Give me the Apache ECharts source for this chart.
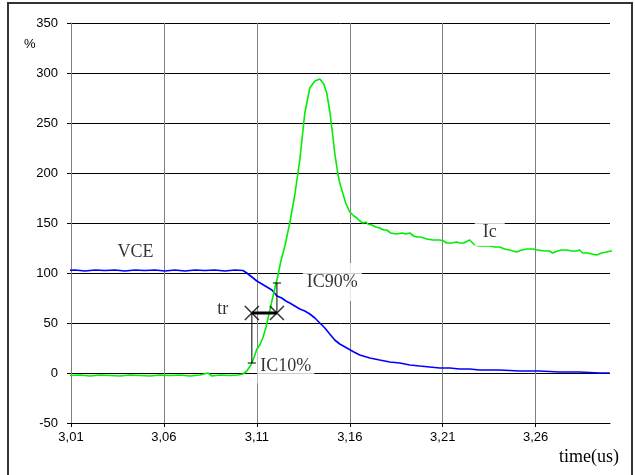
<!DOCTYPE html>
<html>
<head>
<meta charset="utf-8">
<script src="https://cdn.jsdelivr.net/npm/echarts@6/dist/echarts.min.js"></script>
<style>html,body{margin:0;padding:0;background:#fff}#c{width:635px;height:475px}</style>
</head>
<body>
<div id="c"></div>
<script>
// ---- data (time in µs, values in %) ----
const T0 = 3.01;
const xTickLabels = ['3,01','3,06','3,11','3,16','3,21','3,26'];

const vceTime = [3.0068,3.0122,3.0175,3.0229,3.0283,3.0337,3.0390,3.0444,3.0498,3.0552,3.0605,3.0659,3.0713,3.0767,3.0820,3.0874,3.0928,3.0982,3.1025,3.1046,3.1073,3.1100,3.1127,3.1154,3.1181,3.1208,3.1234,3.1256,3.1277,3.1304,3.1331,3.1358,3.1385,3.1412,3.1439,3.1466,3.1492,3.1519,3.1546,3.1584,3.1622,3.1654,3.1708,3.1761,3.1815,3.1869,3.1923,3.1976,3.2030,3.2084,3.2138,3.2191,3.2245,3.2299,3.2353,3.2406,3.2514,3.2621,3.2729,3.2836,3.2944,3.2998];
const vceValue = [102.5,103,102,103,102.5,103,102,103,102.5,103,102,103,102,103,102.5,103,102,103,102.5,100,96,92,89,86,83,77,75,72,70,67,64,62,59,55,50,45,39,33,29,25,21,18,15,13,11,10,8,7,6,5,5,4,4,3,3,3,2,2,1,1,0,0];

const icTime = [3.0068,3.0095,3.0148,3.0202,3.0256,3.0310,3.0363,3.0417,3.0471,3.0525,3.0578,3.0632,3.0686,3.0740,3.0794,3.0837,3.0858,3.0901,3.0955,3.0998,3.1025,3.1046,3.1068,3.1084,3.1100,3.1116,3.1132,3.1148,3.1164,3.1181,3.1197,3.1213,3.1229,3.1251,3.1277,3.1304,3.1331,3.1358,3.1385,3.1412,3.1439,3.1460,3.1476,3.1492,3.1503,3.1519,3.1535,3.1546,3.1562,3.1578,3.1600,3.1622,3.1638,3.1654,3.1670,3.1686,3.1697,3.1718,3.1740,3.1761,3.1783,3.1799,3.1820,3.1853,3.1880,3.1901,3.1923,3.1944,3.1960,3.1982,3.2014,3.2046,3.2084,3.2105,3.2122,3.2148,3.2175,3.2191,3.2213,3.2234,3.2245,3.2261,3.2272,3.2299,3.2315,3.2353,3.2380,3.2406,3.2433,3.2460,3.2498,3.2525,3.2552,3.2584,3.2611,3.2648,3.2675,3.2691,3.2718,3.2740,3.2767,3.2794,3.2820,3.2836,3.2853,3.2880,3.2901,3.2928,3.2955,3.2982,3.3003,3.3025];
const icValue = [-1,-2.5,-2,-3,-2,-2.5,-3,-2,-2.5,-3,-2,-2.5,-2,-3,-2,0,-3,-2,-2.5,-2,-1,2,8,15,24,28,35,45,58,72,85,97,112,127,150,178,213,260,285,292,294,289,280,262,246,220,200,190,180,170,161,157,155,152,150,151,149,148,146,145,143,143,140,139,140,139,140,137,136,136,134,133,133,132,130,130,131,130,130,132,133,130,128,127,127,127,126,126,124,123,121,123,124,124,123,122,122,120,122,123,123,122,122,123,120,120,119,118,120,121,122,122];

// rise-time annotation (µs, %)
const trTimes = [3.1073, 3.1208];
const trLevel = 60;
const ic10Level = 10;
const ic90Level = 90;

// text annotations
const noteText  = ['VCE', 'tr', 'IC90%', 'IC10%', 'Ic'];
const noteTime  = [3.0447, 3.0917, 3.1506, 3.1256, 3.2353];
const noteValue = [120.5, 64, 91, 6.5, 141];

// ---- build ----
const toX = t => +((t - T0) * 1000).toFixed(3);
const pairs = (ts, vs) => ts.map((t, i) => [toX(t), vs[i]]);
const serif = '"Liberation Serif", "Times New Roman", serif';
const sans = '"Liberation Sans", Arial, sans-serif';
const notePad = {
  'VCE': [0, 0], 'tr': [0, 0], 'IC90%': [10, 4], 'IC10%': [8, 3], 'Ic': [5, 8]
};
const segStyle = {type: 'line', symbol: 'none', silent: true, clip: false, z: 5,
  lineStyle: {color: '#000', width: 1}};
const tk = 0.0022;

const chart = echarts.init(document.getElementById('c'), null, {renderer: 'canvas'});
chart.setOption({
  animation: false,
  backgroundColor: '#fff',
  grid: {left: 71, right: 25, top: 23, bottom: 52, containLabel: false},
  xAxis: {
    type: 'value', min: 0, max: 290, interval: 50,
    axisLine: {onZero: false, lineStyle: {color: '#000', width: 1}},
    axisTick: {show: true, length: 4, lineStyle: {color: '#000'}},
    axisLabel: {
      margin: 8, color: '#000', fontFamily: sans, fontSize: 13, showMaxLabel: false,
      formatter: v => { const i = Math.round(v / 50); return (Math.abs(v - i * 50) < 1e-6 && xTickLabels[i]) ? xTickLabels[i] : ''; }
    },
    splitLine: {show: true, showMaxLine: false, lineStyle: {color: '#808080', width: 1}}
  },
  yAxis: {
    type: 'value', min: -50, max: 350, interval: 50,
    axisLine: {show: true, onZero: false, lineStyle: {color: '#808080', width: 1}},
    axisTick: {show: true, length: 4, lineStyle: {color: '#000'}},
    axisLabel: {margin: 13, color: '#000', fontFamily: sans, fontSize: 13},
    splitLine: {show: true, lineStyle: {color: '#000', width: 1}}
  },
  graphic: [
    {type: 'rect', shape: {x: 8, y: 3, width: 624, height: 476}, style: {fill: 'none', stroke: '#333', lineWidth: 2}, z: 100},
    {type: 'text', left: 24, top: 38, style: {text: '%', font: '13px ' + sans, fill: '#000'}},
    {type: 'text', left: 559, top: 448, style: {text: 'time(us)', font: '18px ' + serif, fill: '#000'}}
  ],
  series: [
    {name: 'VCE', type: 'line', data: pairs(vceTime, vceValue), symbol: 'none', smooth: false, clip: false, z: 3,
     lineStyle: {color: '#0000ff', width: 1.6}},
    {name: 'Ic', type: 'line', data: pairs(icTime, icValue), symbol: 'none', smooth: false, clip: false, z: 3,
     lineStyle: {color: '#00ee00', width: 1.6}},
    Object.assign({}, segStyle, {data: pairs([trTimes[0], trTimes[0]], [trLevel, ic10Level])}),
    Object.assign({}, segStyle, {data: pairs([trTimes[0] - tk, trTimes[0] + tk], [ic10Level, ic10Level])}),
    Object.assign({}, segStyle, {data: pairs([trTimes[1], trTimes[1]], [trLevel, ic90Level])}),
    Object.assign({}, segStyle, {data: pairs([trTimes[1] - tk, trTimes[1] + tk], [ic90Level, ic90Level])}),
    Object.assign({}, segStyle, {data: pairs(trTimes, [trLevel, trLevel]), lineStyle: {color: '#000', width: 3}}),
    {type: 'scatter', silent: true, z: 6, data: pairs(trTimes, [trLevel, trLevel]),
     symbol: 'path://M0,0L10,10M10,0L0,10', symbolSize: 14,
     itemStyle: {color: 'transparent', borderColor: '#000', borderWidth: 1.5}},
    {type: 'scatter', silent: true, z: 10, symbolSize: 0,
     data: noteText.map((s, i) => ({value: [toX(noteTime[i]), noteValue[i]], name: s})),
     label: {show: true, position: 'inside', formatter: p => p.name,
       color: '#000', fontFamily: serif, fontSize: 18,
       backgroundColor: '#fff',
       rich: {}},
     labelLayout: null
    }
  ]
});
// per-label padding
const opt = chart.getOption();
const notesSeries = opt.series[opt.series.length - 1];
notesSeries.data = noteText.map((s, i) => ({
  value: [toX(noteTime[i]), noteValue[i]], name: s,
  label: {padding: notePad[s], backgroundColor: (notePad[s][0] || notePad[s][1]) ? '#fff' : 'transparent'}
}));
chart.setOption({series: opt.series});
</script>
</body>
</html>
